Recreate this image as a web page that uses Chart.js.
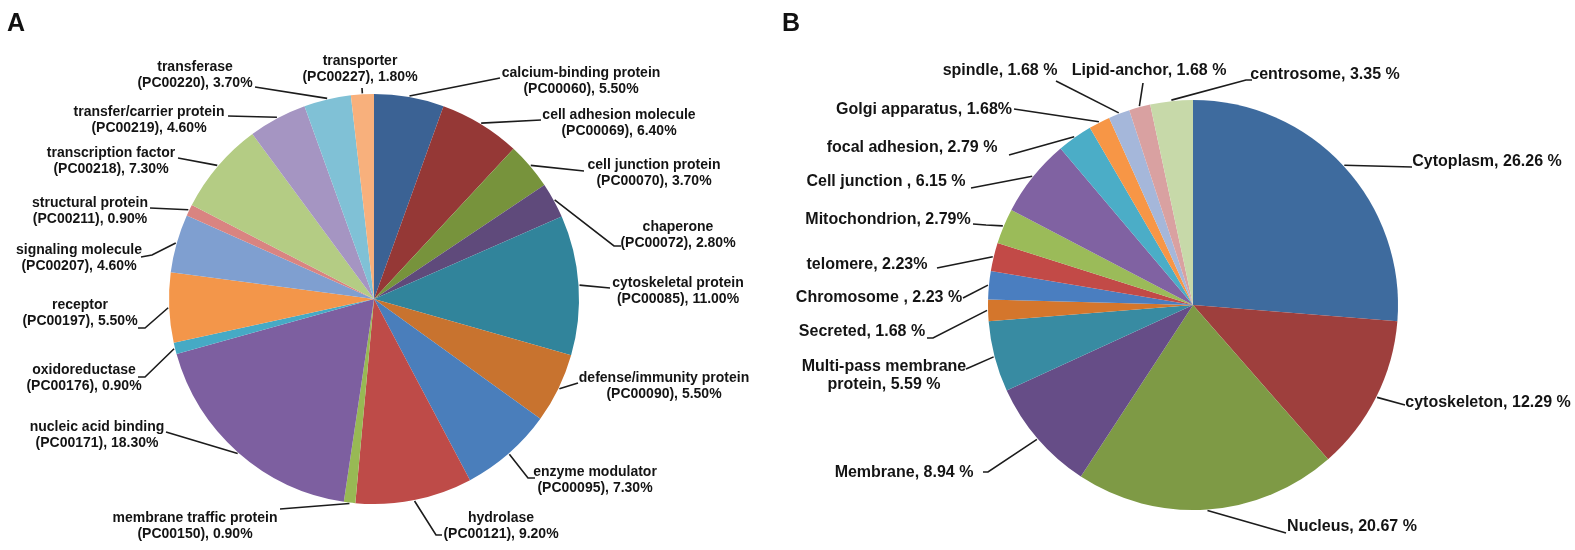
<!DOCTYPE html>
<html>
<head>
<meta charset="utf-8">
<script src="https://cdn.jsdelivr.net/npm/chart.js@4.4.1/dist/chart.umd.min.js"></script>
<style>
    html, body { margin: 0; padding: 0; background: #fff; }
    #wrap { position: relative; width: 1575px; height: 550px; overflow: hidden; }
    #wrap canvas { position: absolute; left: 0; top: 0; }
    .panel { position: absolute; font: bold 25px "Liberation Sans", Arial, sans-serif; line-height: 25px; color: #111; }
</style>
</head>
<body>
<div id="wrap">
    <canvas id="chartA" width="1575" height="550"></canvas>
    <canvas id="chartB" width="1575" height="550"></canvas>
    <div class="panel" style="left:7px;top:10px">A</div>
    <div class="panel" style="left:782px;top:10px">B</div>
</div>
<script>
// Panel A - protein classes (PANTHER)
const categoriesA = ['calcium-binding protein', 'cell adhesion molecule', 'cell junction protein', 'chaperone',
    'cytoskeletal protein', 'defense/immunity protein', 'enzyme modulator', 'hydrolase',
    'membrane traffic protein', 'nucleic acid binding', 'oxidoreductase', 'receptor',
    'signaling molecule', 'structural protein', 'transcription factor', 'transfer/carrier protein',
    'transferase', 'transporter'];
const codesA = ['PC00060', 'PC00069', 'PC00070', 'PC00072', 'PC00085', 'PC00090', 'PC00095', 'PC00121',
    'PC00150', 'PC00171', 'PC00176', 'PC00197', 'PC00207', 'PC00211', 'PC00218', 'PC00219',
    'PC00220', 'PC00227'];
const valuesA = [5.5, 6.4, 3.7, 2.8, 11.0, 5.5, 7.3, 9.2, 0.9, 18.3, 0.9, 5.5, 4.6, 0.9, 7.3, 4.6, 3.7, 1.8];

// Panel B - subcellular location
const categoriesB = ['Cytoplasm', 'cytoskeleton', 'Nucleus', 'Membrane', 'Multi-pass membrane\nprotein',
    'Secreted', 'Chromosome ', 'telomere', 'Mitochondrion', 'Cell junction ', 'focal adhesion',
    'Golgi apparatus', 'spindle', 'Lipid-anchor', 'centrosome'];
const valuesB = [26.26, 12.29, 20.67, 8.94, 5.59, 1.68, 2.23, 2.23, 2.79, 6.15, 2.79, 1.68, 1.68, 1.68, 3.35];
const pctSepB = [' ', ' ', ' ', ' ', ' ', ' ', ' ', '', '', ' ', ' ', '', ' ', ' ', ' '];

const colorsA = ['#3b6294', '#953836', '#77933c', '#5f4a7b', '#31849b', '#c8732f', '#4a7ebb', '#be4b48',
    '#98b954', '#7d5fa0', '#46aac5', '#f3964a', '#7f9fd0', '#d98481', '#b4cc84', '#a595c2',
    '#80c1d6', '#f8b07c'];
const colorsB = ['#3e6b9e', '#9e3f3d', '#7e9a45', '#664d87', '#388ba2', '#d4762c', '#4a7ec0', '#c24a47',
    '#9bbb59', '#8062a2', '#4badc7', '#f79646', '#a5b7da', '#d9a1a1', '#c7d9a9'];

// label placement (page px): text centre of first line + leader points from the text side
const layoutA = [
    { x: 581, y: 73, line: [[500, 78]] },
    { x: 619, y: 115, line: [[541, 120]] },
    { x: 654, y: 165, line: [[584, 171]] },
    { x: 678, y: 227, line: [[621, 246], [614, 246]] },
    { x: 678, y: 283, line: [[610, 288]] },
    { x: 664, y: 378, line: [[578, 383]] },
    { x: 595, y: 472, line: [[535, 478], [528, 478]] },
    { x: 501, y: 518, line: [[442, 535], [436, 535]] },
    { x: 195, y: 518, line: [[280, 509]] },
    { x: 97, y: 427, line: [[166, 432]] },
    { x: 84, y: 370, line: [[138, 377], [145, 377]] },
    { x: 80, y: 305, line: [[138, 328], [145, 328]] },
    { x: 79, y: 250, line: [[141, 257], [152, 255]] },
    { x: 90, y: 203, line: [[150, 208]] },
    { x: 111, y: 153, line: [[178, 158]] },
    { x: 149, y: 112, line: [[228, 116]] },
    { x: 195, y: 67, line: [[255, 87]] },
    { x: 360, y: 61, line: [[362, 88]] }
];
const layoutB = [
    { x: 1487, y: 162, line: [[1412, 167]] },
    { x: 1488, y: 403, line: [[1405, 405]] },
    { x: 1352, y: 527, line: [[1286, 533]] },
    { x: 904, y: 473, line: [[983, 472], [988, 472]] },
    { x: 884, y: 367, line: [[966, 369]] },
    { x: 862, y: 332, line: [[927, 338], [933, 338]] },
    { x: 879, y: 298, line: [[963, 298]] },
    { x: 867, y: 265, line: [[937, 268]] },
    { x: 888, y: 220, line: [[973, 224], [986, 225]] },
    { x: 886, y: 182, line: [[971, 188]] },
    { x: 912, y: 148, line: [[1009, 155]] },
    { x: 924, y: 110, line: [[1014, 109]] },
    { x: 1000, y: 71, line: [[1056, 81]] },
    { x: 1149, y: 71, line: [[1143, 83]] },
    { x: 1325, y: 75, line: [[1252, 80], [1246, 80]] }
];

const textA = categoriesA.map((c, i) => `${c}\n(${codesA[i]}), ${valuesA[i].toFixed(2)}%`);
const textB = categoriesB.map((c, i) => `${c}, ${valuesB[i].toFixed(2)}${pctSepB[i]}%`);

// draws text labels and leader lines that end on the middle of each slice's rim
function makeLeaderLabels(texts, layout, font, lineHeight) {
    return {
        id: 'leaderLabels',
        afterDraw(chart) {
            const ctx = chart.ctx;
            const arcs = chart.getDatasetMeta(0).data;
            ctx.save();
            ctx.font = font;
            ctx.fillStyle = '#141414';
            ctx.strokeStyle = '#1c1c1c';
            ctx.lineWidth = 1.6;
            ctx.textAlign = 'center';
            ctx.textBaseline = 'middle';
            arcs.forEach((arc, i) => {
                const p = arc.getProps(['x', 'y', 'startAngle', 'endAngle', 'outerRadius'], true);
                const mid = (p.startAngle + p.endAngle) / 2;
                const lay = layout[i];
                ctx.beginPath();
                lay.line.forEach((pt, k) => k ? ctx.lineTo(pt[0], pt[1]) : ctx.moveTo(pt[0], pt[1]));
                ctx.lineTo(p.x + Math.cos(mid) * (p.outerRadius + 1), p.y + Math.sin(mid) * (p.outerRadius + 1));
                ctx.stroke();
                texts[i].split('\n').forEach((s, k) => ctx.fillText(s, lay.x, lay.y + k * lineHeight));
            });
            ctx.restore();
        }
    };
}

function makePie(id, labels, values, colors, padding, plugin) {
    return new Chart(document.getElementById(id), {
        type: 'pie',
        data: {
            labels: labels,
            datasets: [{ data: values, backgroundColor: colors, borderWidth: 0 }]
        },
        options: {
            responsive: false,
            animation: false,
            events: [],
            layout: { padding: padding },
            plugins: { legend: { display: false }, tooltip: { enabled: false } }
        },
        plugins: [plugin]
    });
}

makePie('chartA', categoriesA, valuesA, colorsA,
    { left: 169, right: 996, top: 94, bottom: 46 },
    makeLeaderLabels(textA, layoutA, 'bold 14px "Liberation Sans", Arial, sans-serif', 16.5));
makePie('chartB', categoriesB, valuesB, colorsB,
    { left: 988, right: 177, top: 100, bottom: 40 },
    makeLeaderLabels(textB, layoutB, 'bold 16px "Liberation Sans", Arial, sans-serif', 18));
</script>
</body>
</html>
